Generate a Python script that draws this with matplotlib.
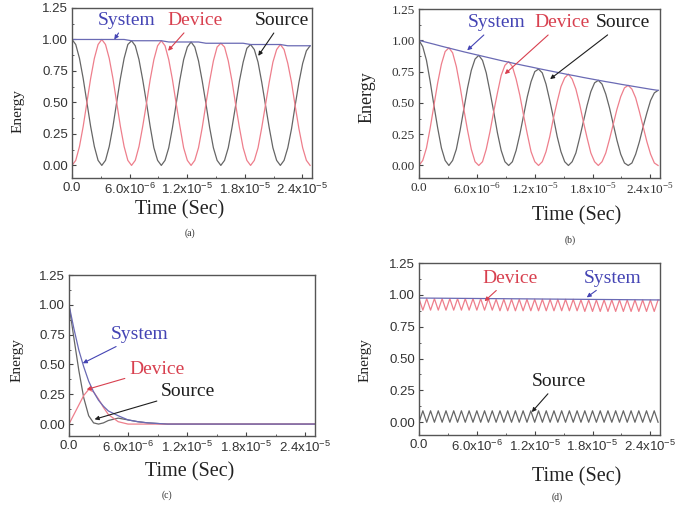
import numpy as np
from matplotlib import pyplot as plt
from matplotlib.ticker import FixedLocator, MultipleLocator

# text colours and (paler) line colours
blue = '#4444b4'
red = '#d8404f'
black = '#1e1e1e'
blue_ln = '#6a6ab4'
red_ln = '#ee7f8c'
black_ln = '#666666'

xticks = [0, 6e-6, 1.2e-5, 1.8e-5, 2.4e-5]
xticklabels = ['0.0', '6.0x10$^{\\mathregular{-6}}$', '1.2x10$^{\\mathregular{-5}}$',
               '1.8x10$^{\\mathregular{-5}}$', '2.4x10$^{\\mathregular{-5}}$']
yticks = [0.0, 0.25, 0.50, 0.75, 1.00, 1.25]

# (a) and (b): system sampled every 1/8 period, source/device every 1/16
t_sys = np.arange(33) * 7.75e-7
t_osc = np.arange(65) * 3.875e-7

sys_a = [1.00, 1.00, 1.00, 1.00, 1.00, 1.00, 1.00, 1.00, 0.99, 0.99, 0.99,
         0.99, 0.99, 0.98, 0.98, 0.98, 0.98, 0.98, 0.97, 0.97, 0.97, 0.97,
         0.97, 0.97, 0.96, 0.96, 0.96, 0.96, 0.96, 0.95, 0.95, 0.95, 0.95]
src_a = [1.00, 0.96, 0.85, 0.69, 0.50, 0.31, 0.15, 0.04, 0.00, 0.04, 0.15, 0.31, 0.50, 0.69, 0.85, 0.96,
         0.99, 0.95, 0.84, 0.68, 0.50, 0.31, 0.14, 0.04, 0.00, 0.04, 0.14, 0.30, 0.49, 0.68, 0.84, 0.94,
         0.98, 0.94, 0.83, 0.67, 0.49, 0.30, 0.14, 0.04, 0.00, 0.04, 0.14, 0.30, 0.48, 0.67, 0.82, 0.93,
         0.96, 0.92, 0.82, 0.66, 0.48, 0.30, 0.14, 0.04, 0.00, 0.04, 0.14, 0.29, 0.48, 0.66, 0.81, 0.91,
         0.95]
dev_a = [0.00, 0.04, 0.15, 0.31, 0.50, 0.69, 0.85, 0.96, 1.00, 0.96, 0.85, 0.69, 0.50, 0.31, 0.15, 0.04,
         0.00, 0.04, 0.15, 0.31, 0.49, 0.68, 0.84, 0.95, 0.99, 0.95, 0.84, 0.68, 0.49, 0.31, 0.14, 0.04,
         0.00, 0.04, 0.14, 0.30, 0.49, 0.67, 0.83, 0.94, 0.97, 0.94, 0.83, 0.67, 0.48, 0.30, 0.14, 0.04,
         0.00, 0.04, 0.14, 0.30, 0.48, 0.66, 0.82, 0.92, 0.96, 0.92, 0.81, 0.66, 0.47, 0.29, 0.14, 0.04,
         0.00]

sys_b = [1.00, 0.984, 0.969, 0.953, 0.938, 0.923, 0.908, 0.894, 0.880, 0.866,
         0.852, 0.838, 0.825, 0.812, 0.799, 0.787, 0.774, 0.762, 0.750, 0.738,
         0.726, 0.715, 0.703, 0.692, 0.681, 0.670, 0.660, 0.649, 0.639, 0.629,
         0.619, 0.609, 0.600]
src_b = [1.00, 0.95, 0.84, 0.67, 0.48, 0.30, 0.14, 0.04, 0.00, 0.04, 0.13, 0.28, 0.45, 0.62, 0.76, 0.85,
         0.88, 0.84, 0.74, 0.59, 0.43, 0.26, 0.12, 0.03, 0.00, 0.03, 0.12, 0.25, 0.40, 0.55, 0.67, 0.75,
         0.77, 0.74, 0.65, 0.52, 0.38, 0.23, 0.11, 0.03, 0.00, 0.03, 0.10, 0.22, 0.35, 0.48, 0.59, 0.66,
         0.68, 0.65, 0.57, 0.46, 0.33, 0.20, 0.09, 0.02, 0.00, 0.02, 0.09, 0.19, 0.31, 0.42, 0.52, 0.58,
         0.60]
dev_b = [0.00, 0.04, 0.14, 0.30, 0.48, 0.66, 0.81, 0.91, 0.94, 0.90, 0.79, 0.63, 0.45, 0.28, 0.13, 0.03,
         0.00, 0.03, 0.13, 0.27, 0.43, 0.58, 0.72, 0.80, 0.83, 0.79, 0.69, 0.56, 0.40, 0.25, 0.11, 0.03,
         0.00, 0.03, 0.11, 0.23, 0.38, 0.51, 0.63, 0.70, 0.73, 0.69, 0.61, 0.49, 0.35, 0.22, 0.10, 0.03,
         0.00, 0.03, 0.10, 0.21, 0.33, 0.45, 0.55, 0.62, 0.64, 0.61, 0.54, 0.43, 0.31, 0.19, 0.09, 0.02,
         0.00]

# (c): fast decay
t_c = [0, 5e-7, 1e-6, 1.5e-6, 2e-6, 2.5e-6, 3e-6, 3.5e-6, 4e-6, 5e-6, 6e-6,
       7e-6, 8e-6, 9e-6, 1e-5, 1.2e-5, 1.5e-5, 2e-5, 2.5e-5]
sys_c = [1.00, 0.80, 0.62, 0.48, 0.36, 0.27, 0.20, 0.15, 0.11, 0.07, 0.035,
         0.02, 0.01, 0.005, 0.0, 0.0, 0.0, 0.0, 0.0]
src_c = [1.00, 0.72, 0.45, 0.22, 0.07, 0.01, 0.00, 0.01, 0.03, 0.05, 0.035,
         0.02, 0.01, 0.005, 0.0, 0.0, 0.0, 0.0, 0.0]
dev_c = [0.00, 0.08, 0.16, 0.24, 0.29, 0.27, 0.21, 0.14, 0.08, 0.02, 0.0,
         0.0, 0.0, 0.0, 0.0, 0.0, 0.0, 0.0, 0.0]

# (d): small fast exchange, samples every half period
t_d = np.arange(63) * 4e-7
t_sys_d = [0, 2.5e-5]
sys_d = [0.975, 0.96]
src_d = [0.00, 0.09, 0.00, 0.09, 0.00, 0.09, 0.00, 0.09, 0.00, 0.09, 0.00,
         0.09, 0.00, 0.09, 0.00, 0.09, 0.00, 0.09, 0.00, 0.09, 0.00, 0.09,
         0.00, 0.09, 0.00, 0.09, 0.00, 0.09, 0.00, 0.09, 0.00, 0.09, 0.00,
         0.09, 0.00, 0.09, 0.00, 0.09, 0.00, 0.09, 0.00, 0.09, 0.00, 0.09,
         0.00, 0.09, 0.00, 0.09, 0.00, 0.09, 0.00, 0.09, 0.00, 0.09, 0.00,
         0.09, 0.00, 0.09, 0.00, 0.09, 0.00, 0.09, 0.00]
dev_d = [0.97, 0.88, 0.97, 0.88, 0.97, 0.88, 0.97, 0.88, 0.97, 0.88, 0.97,
         0.88, 0.97, 0.88, 0.97, 0.88, 0.97, 0.88, 0.97, 0.88, 0.965, 0.875,
         0.965, 0.875, 0.965, 0.875, 0.965, 0.875, 0.965, 0.875, 0.965, 0.875,
         0.965, 0.875, 0.965, 0.875, 0.965, 0.875, 0.965, 0.875, 0.965, 0.875,
         0.96, 0.87, 0.96, 0.87, 0.96, 0.87, 0.96, 0.87, 0.96, 0.87, 0.96,
         0.87, 0.96, 0.87, 0.96, 0.87, 0.96, 0.87, 0.96, 0.87, 0.96]

serif = 'Liberation Serif'
sans = 'Liberation Sans'

fig = plt.figure(figsize=(6.77, 5.09), dpi=100)


def setup(ax, tickfont):
    ax.set_xlim(0, 2.5e-5)
    ax.set_ylim(-0.1, 1.25)
    ax.xaxis.set_major_locator(FixedLocator(xticks))
    ax.set_xticklabels(xticklabels, family=tickfont, fontsize=9.5)
    ax.yaxis.set_major_locator(FixedLocator(yticks))
    ax.set_yticklabels(['%.2f' % v for v in yticks], family=tickfont, fontsize=9.5)
    ax.yaxis.set_minor_locator(MultipleLocator(0.125))
    ax.xaxis.set_minor_locator(MultipleLocator(3e-6))
    ax.tick_params(which='major', direction='in', length=3, width=0.8,
                   colors='#444444', pad=3)
    ax.tick_params(which='minor', direction='in', length=1.5, width=0.6,
                   colors='#444444')
    for lab in ax.get_xticklabels() + ax.get_yticklabels():
        lab.set_color('#333333')
    for s in ax.spines.values():
        s.set_color('#555555')
        s.set_linewidth(1.0)


def note(ax, text, color, tip, pos):
    ax.annotate(text, xy=tip, xytext=pos, ha='center', va='center',
                family=serif, fontsize=14, color=color,
                arrowprops=dict(arrowstyle='-|>', color=color, lw=0.8,
                                mutation_scale=6, shrinkA=1, shrinkB=0))


lw = 0.9

# (a)
ax = fig.add_axes([0.1064, 0.6503, 0.3545, 0.334])
setup(ax, sans)
ax.plot(t_osc, src_a, color=black_ln, lw=lw)
ax.plot(t_osc, dev_a, color=red_ln, lw=lw)
ax.plot(t_sys, sys_a, color=blue_ln, lw=lw)
note(ax, 'System', blue, (4.4e-6, 1.0), (5.7e-6, 1.15))
note(ax, 'Device', red, (1.0e-5, 0.91), (1.28e-5, 1.15))
note(ax, 'Source', black, (1.94e-5, 0.87), (2.19e-5, 1.15))

# (b)
ax = fig.add_axes([0.6189, 0.6503, 0.356, 0.332])
setup(ax, serif)
ax.plot(t_osc, src_b, color=black_ln, lw=lw)
ax.plot(t_osc, dev_b, color=red_ln, lw=lw)
ax.plot(t_sys, sys_b, color=blue_ln, lw=lw)
note(ax, 'System', blue, (5.0e-6, 0.92), (8.1e-6, 1.14))
note(ax, 'Device', red, (8.9e-6, 0.73), (1.48e-5, 1.14))
note(ax, 'Source', black, (1.36e-5, 0.69), (2.12e-5, 1.14))

# (c)
ax = fig.add_axes([0.1019, 0.1434, 0.3634, 0.3163])
setup(ax, sans)
ax.plot(t_c, src_c, color=black_ln, lw=lw)
ax.plot(t_c, dev_c, color=red_ln, lw=lw)
ax.plot(t_c, sys_c, color=blue_ln, lw=lw)
note(ax, 'System', blue, (1.4e-6, 0.51), (7.2e-6, 0.75))
note(ax, 'Device', red, (1.8e-6, 0.29), (8.9e-6, 0.46))
note(ax, 'Source', black, (2.6e-6, 0.04), (1.21e-5, 0.27))

# (d)
ax = fig.add_axes([0.6189, 0.1454, 0.356, 0.3379])
setup(ax, sans)
ax.plot(t_d, src_d, color=black_ln, lw=lw)
ax.plot(t_d, dev_d, color=red_ln, lw=lw)
ax.plot(t_sys_d, sys_d, color=blue_ln, lw=lw)
note(ax, 'Device', red, (6.8e-6, 0.95), (9.4e-6, 1.13))
note(ax, 'System', blue, (1.74e-5, 0.98), (2.01e-5, 1.13))
note(ax, 'Source', black, (1.17e-5, 0.08), (1.45e-5, 0.32))

# axis labels and captions, placed in figure pixels
W, H = 677.0, 509.0
ylab = [(18, 111, 11), (367, 97, 13), (17, 360, 11), (365, 360, 11)]
xlab = [(180, 210), (577, 216), (190, 472), (577, 477)]
caps = [('(a)', 190, 233), ('(b)', 570, 240), ('(c)', 167, 495), ('(d)', 557, 497)]
for x, y, fs in ylab:
    fig.text(x / W, 1 - y / H, 'Energy', rotation=90, ha='center', va='center',
             family=serif, fontsize=fs, color='#222222')
for x, y in xlab:
    fig.text(x / W, 1 - y / H, 'Time (Sec)', ha='center', va='center',
             family=serif, fontsize=14.5, color='#222222')
for c, x, y in caps:
    fig.text(x / W, 1 - y / H, c, ha='center', va='center',
             family=serif, fontsize=7, color='#333333')

plt.savefig('out.png', dpi=100)
